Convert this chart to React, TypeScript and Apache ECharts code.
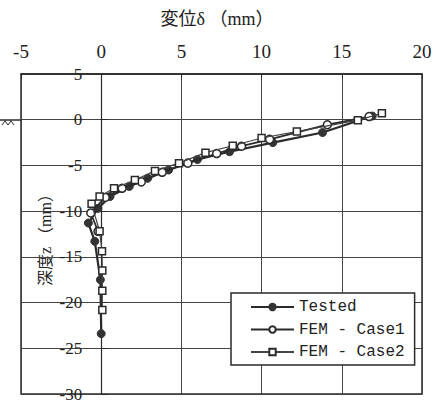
import React, { useEffect, useRef } from "react";
import * as echarts from "echarts";

const xTicks = [-5, 0, 5, 10, 15, 20];
const yTicks = [-30, -25, -20, -15, -10, -5, 0, 5];

const seriesNames = ["Tested", "FEM - Case1", "FEM - Case2"];

// [displacement δ (mm), depth z]
const tested: number[][] = [
  [16.9, 0.4], [13.8, -1.4], [10.7, -2.5], [8.0, -3.5], [6.0, -4.35],
  [4.2, -5.5], [2.9, -6.4], [1.75, -7.3], [0.55, -8.4], [-0.2, -9.7],
  [-0.8, -11.3], [-0.4, -13.3], [-0.05, -17.5], [0.0, -23.4],
];
const case1: number[][] = [
  [16.7, 0.35], [14.1, -0.55], [10.5, -2.15], [8.75, -2.9], [7.2, -3.7],
  [5.4, -4.75], [3.8, -5.75], [2.5, -6.8], [1.3, -7.5], [0.25, -8.5],
  [-0.65, -10.2], [-0.2, -12.2],
];
const case2: number[][] = [
  [17.5, 0.7], [16.0, -0.05], [12.2, -1.3], [10.0, -2.0], [8.2, -2.85],
  [6.5, -3.6], [4.85, -4.75], [3.35, -5.6], [2.1, -6.6], [0.8, -7.5],
  [-0.1, -8.4], [-0.6, -9.2], [-0.1, -12.2], [0.05, -14.4], [0.07, -16.5],
  [0.07, -18.7], [0.07, -20.8],
];

const xName = "変位δ （mm）";
const yName = "深度z （mm）";

export default function App() {
  const ref = useRef<HTMLDivElement>(null);
  useEffect(() => {
    if (!ref.current) return;
    const chart = echarts.init(ref.current, null, { renderer: "svg" });
    const ink = "#2a2a2a";
    const serif = "'Liberation Serif', 'DejaVu Serif', serif";
    const gridLeft = 21;
    const gridRight = 12;
    const plotW = 434 - gridLeft - gridRight;
    const xMin = xTicks[0];
    const xMax = xTicks[xTicks.length - 1];
    // shift the y axis so that it sits on x = 0
    const yAxisOffset = -((0 - xMin) / (xMax - xMin)) * plotW;
    chart.setOption({
      animation: false,
      backgroundColor: "#ffffff",
      grid: {
        left: gridLeft, right: gridRight, top: 74, bottom: 11,
        containLabel: false,
        outerBoundsMode: "none",
        show: true, borderColor: ink, borderWidth: 1.5, backgroundColor: "transparent",
      },
      xAxis: {
        type: "value",
        position: "top",
        min: xMin,
        max: xMax,
        interval: 5,
        axisLine: { onZero: false, lineStyle: { color: ink, width: 1.5 } },
        axisTick: { inside: true, length: 5, lineStyle: { color: ink } },
        axisLabel: { color: "#222", fontSize: 19, fontFamily: serif, margin: 13, showMinLabel: true, showMaxLabel: true },
        splitLine: { show: true, lineStyle: { color: "#444", width: 1 } },
      },
      yAxis: {
        type: "value",
        min: yTicks[0],
        max: yTicks[yTicks.length - 1],
        interval: 5,
        offset: yAxisOffset,
        axisLine: { onZero: false, lineStyle: { color: ink, width: 1.2 } },
        axisTick: { inside: true, length: 7, lineStyle: { color: ink } },
        axisLabel: {
          color: "#222", fontSize: 17, fontFamily: serif, margin: 19,
          padding: [5, 0, 0, 0], showMinLabel: true, showMaxLabel: true,
        },
        splitLine: { show: true, lineStyle: { color: "#444", width: 1 } },
      },
      legend: {
        data: seriesNames,
        orient: "vertical",
        left: 231,
        top: 293,
        backgroundColor: "#ffffff",
        borderColor: ink,
        borderWidth: 1.5,
        borderRadius: 0,
        padding: [6, 10, 5, 19],
        itemWidth: 43,
        itemHeight: 8,
        itemGap: 6.5,
        textStyle: {
          fontFamily: "'Liberation Mono', 'DejaVu Sans Mono', monospace",
          fontSize: 16, lineHeight: 16, color: "#222",
        },
      },
      graphic: [
        {
          type: "text", left: "center", top: 10,
          style: { text: xName, fontSize: 18, fill: "#222", fontFamily: "'Liberation Serif', 'Noto Sans CJK JP', serif" },
        },
        {
          type: "text", x: 45, y: 236, rotation: Math.PI / 2,
          style: {
            text: yName, fontSize: 16, fill: "#222", align: "center", verticalAlign: "middle",
            fontFamily: "'Liberation Serif', 'Noto Sans CJK JP', serif",
          },
        },
        {
          type: "line", shape: { x1: 0, y1: 120, x2: 21, y2: 120 },
          style: { stroke: ink, lineWidth: 1.5 },
        },
        {
          type: "polyline",
          shape: { points: [[2, 125], [5, 121], [8, 125], [11, 121], [14, 125]] },
          style: { stroke: ink, lineWidth: 1, fill: "none" },
        },
      ],
      series: [
        {
          name: seriesNames[0], type: "line", data: tested,
          symbol: "circle", symbolSize: 8,
          lineStyle: { color: ink, width: 2.2 },
          itemStyle: { color: "#333", borderColor: "#333", borderWidth: 1 },
          z: 2,
        },
        {
          name: seriesNames[1], type: "line", data: case1,
          symbol: "circle", symbolSize: 8,
          lineStyle: { color: ink, width: 1.8 },
          itemStyle: { color: "#ffffff", borderColor: ink, borderWidth: 1.5 },
          z: 3,
        },
        {
          name: seriesNames[2], type: "line", data: case2,
          symbol: "rect", symbolSize: 7,
          lineStyle: { color: "#444", width: 1.2 },
          itemStyle: { color: "#ffffff", borderColor: ink, borderWidth: 1.5 },
          z: 4,
        },
      ],
    });
    return () => chart.dispose();
  }, []);
  return (
    <div
      ref={ref}
      style={{ position: "absolute", left: 0, top: 0, width: 434, height: 405 }}
    />
  );
}
